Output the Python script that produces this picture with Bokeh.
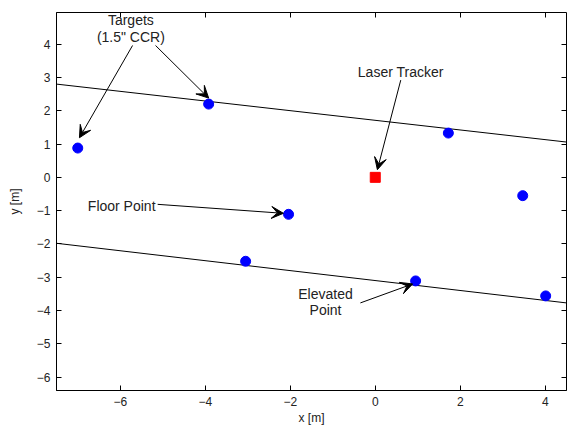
from bokeh.plotting import figure
from bokeh.models import (FixedTicker, LinearAxis, Arrow, VeeHead, Range1d,
                          Label)
from bokeh.embed import file_html
from bokeh.resources import INLINE

# Target positions (1.5" CCR) in metres
target_x = [-7.0, -3.92, 1.72, 3.47, -2.04, -3.05, 0.95, 4.01]
target_y = [0.88, 2.20, 1.33, -0.55, -1.11, -2.52, -3.11, -3.56]

# Laser tracker position
tracker_x = [0.0]
tracker_y = [0.0]

# Two boundary lines (end points at the x-limits)
line1_x = [-7.5, 4.5]
line1_y = [2.80, 1.06]
line2_x = [-7.5, 4.5]
line2_y = [-1.98, -3.77]

x_ticks = [-6, -4, -2, 0, 2, 4]
y_ticks = [-6, -5, -4, -3, -2, -1, 0, 1, 2, 3, 4]

FONT = "Liberation Sans"

p = figure(width=568, height=427, output_backend="svg", toolbar_location=None,
           x_range=Range1d(-7.5, 4.5), y_range=Range1d(-6.4, 4.95),
           min_border_left=56, min_border_right=2, min_border_top=12,
           min_border_bottom=33, background_fill_color="white",
           border_fill_color="white")
p.grid.visible = False
p.outline_line_color = "black"
p.outline_line_width = 1

for ax in (p.xaxis[0], p.yaxis[0]):
    ax.major_tick_in = 5
    ax.major_tick_out = 0
    ax.minor_tick_in = 0
    ax.minor_tick_out = 0
    ax.axis_line_color = "black"
    ax.major_label_text_font = FONT
    ax.major_label_text_font_size = "12px"
    ax.major_label_text_color = "#222222"
    ax.axis_label_text_font = FONT
    ax.axis_label_text_font_size = "12px"
    ax.axis_label_text_font_style = "normal"
    ax.axis_label_text_color = "#222222"
p.xaxis[0].ticker = FixedTicker(ticks=x_ticks)
p.yaxis[0].ticker = FixedTicker(ticks=y_ticks)
p.xaxis[0].axis_label = "x [m]"
p.yaxis[0].axis_label = "y [m]"
p.xaxis[0].major_label_standoff = 6
p.yaxis[0].major_label_standoff = 6
p.xaxis[0].axis_label_standoff = 2
p.yaxis[0].axis_label_standoff = 12

# mirrored tick marks on top and right of the box (no labels)
top = LinearAxis(ticker=FixedTicker(ticks=x_ticks),
                 major_label_overrides={t: "" for t in x_ticks})
right = LinearAxis(ticker=FixedTicker(ticks=y_ticks),
                   major_label_overrides={t: "" for t in y_ticks})
for ax in (top, right):
    ax.major_tick_in = 5
    ax.major_tick_out = 0
    ax.minor_tick_in = 0
    ax.minor_tick_out = 0
    ax.major_label_standoff = 0
    ax.axis_line_color = None
p.add_layout(top, "above")
p.add_layout(right, "right")

p.line(line1_x, line1_y, line_color="black", line_width=1)
p.line(line2_x, line2_y, line_color="black", line_width=1)

p.scatter(target_x, target_y, marker="circle", size=10,
          fill_color="#0000ff", line_color="#0000ff")
p.scatter(tracker_x, tracker_y, marker="square", size=10,
          fill_color="#ff0000", line_color="#ff0000")

# callout arrows: (x_start, y_start, x_end, y_end)
arrows = [
    (-5.71, 3.96, -6.96, 1.19),
    (-5.17, 3.96, -3.92, 2.38),
    (0.60, 2.92, 0.05, 0.23),
    (-5.12, -0.81, -2.16, -1.08),
    (-0.35, -3.77, 0.88, -3.20),
]
for xs, ys, xe, ye in arrows:
    p.add_layout(Arrow(x_start=xs, y_start=ys, x_end=xe, y_end=ye,
                       line_color="black", line_width=1,
                       end=VeeHead(size=12, fill_color="black",
                                   line_color="black")))

labels = [
    ("Targets", -5.75, 4.73, "center"),
    ("(1.5\" CCR)", -5.75, 4.22, "center"),
    ("Laser Tracker", 0.60, 3.16, "center"),
    ("Floor Point", -5.17, -0.87, "right"),
    ("Elevated", -1.17, -3.50, "center"),
    ("Point", -1.17, -3.98, "center"),
]
for txt, lx, ly, align in labels:
    p.add_layout(Label(x=lx, y=ly, text=txt, text_align=align,
                       text_baseline="middle", text_font=FONT,
                       text_font_size="14px", text_color="#222222"))

open("out.html", "w").write(file_html(p, INLINE))
